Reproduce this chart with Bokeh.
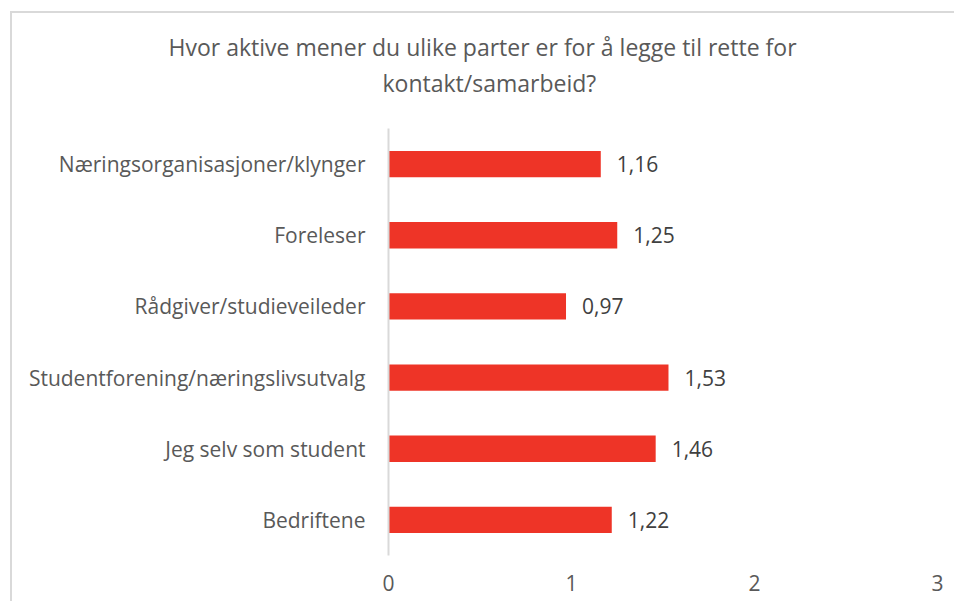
from bokeh.plotting import figure
from bokeh.models import ColumnDataSource, Range1d, FactorRange, LabelSet, Title, FixedTicker
from bokeh.core.properties import value
from bokeh.embed import file_html
from bokeh.resources import INLINE

categories = ["Bedriftene", "Jeg selv som student", "Studentforening/næringslivsutvalg",
              "Rådgiver/studieveileder", "Foreleser", "Næringsorganisasjoner/klynger"]
values = [1.22, 1.46, 1.53, 0.97, 1.25, 1.16]
x_ticks = [0, 1, 2, 3]
title_lines = ["Hvor aktive mener du ulike parter er for å legge til rette for", "kontakt/samarbeid?"]

labels = [f"{v:.2f}".replace(".", ",") for v in values]
src = ColumnDataSource(dict(cat=categories, val=values, lab=labels))

FONT = "Open Sans"
p = figure(width=944, height=590, output_backend="svg", toolbar_location=None,
           y_range=FactorRange(*categories, range_padding=0), x_range=Range1d(0, 3),
           min_border_left=376, min_border_right=19, min_border_top=115, min_border_bottom=48)
p.styles = {"margin-left": "10px", "margin-top": "11px",
            "border-left": "2px solid #d9d9d9", "border-top": "2px solid #d9d9d9"}
p.outline_line_color = None
p.background_fill_color = "white"
p.border_fill_color = "white"

p.hbar(y="cat", right="val", left=0, height=0.37, source=src, color="#EE3427", line_color=None)

p.add_layout(LabelSet(x="val", y="cat", text="lab", source=src, x_offset=16,
                      text_baseline="middle", text_align="left", text_font=value(FONT),
                      text_font_size="21px", text_color="#404040"))

p.xgrid.visible = False
p.ygrid.visible = False
p.xaxis.ticker = FixedTicker(ticks=x_ticks)
p.xaxis.axis_line_color = None
p.xaxis.major_tick_line_color = None
p.xaxis.minor_tick_line_color = None
p.xaxis.major_label_text_font = FONT
p.xaxis.major_label_text_font_size = "21px"
p.xaxis.major_label_text_color = "#595959"
p.xaxis.major_label_standoff = 13

p.yaxis.axis_line_color = "#d9d9d9"
p.yaxis.axis_line_width = 2
p.yaxis.major_tick_line_color = None
p.yaxis.minor_tick_line_color = None
p.yaxis.major_label_text_font = FONT
p.yaxis.major_label_text_font_size = "21px"
p.yaxis.major_label_text_color = "#595959"
p.yaxis.major_label_standoff = 17

# spacer between the plot frame and the title block
p.add_layout(Title(text=" ", text_font_size="1px", standoff=25), "above")
for line, off, so in [(title_lines[1], -6, 4), (title_lines[0], -220, 0)]:
    p.add_layout(Title(text=line, align="left", offset=off, standoff=so,
                       text_font=FONT, text_font_size="23px", text_font_style="normal",
                       text_color="#595959"), "above")

open("out.html", "w").write(file_html(p, INLINE))
